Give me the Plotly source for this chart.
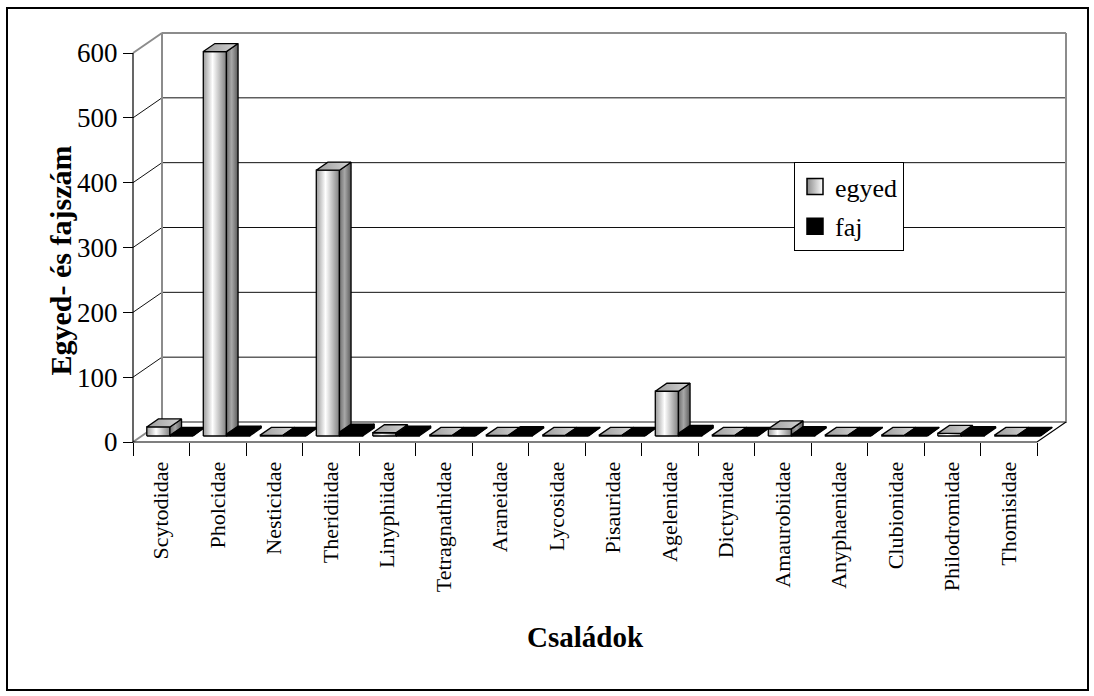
import plotly.graph_objects as go

# Spider families (Családok) with individual (egyed) and species (faj) counts
families = ["Scytodidae", "Pholcidae", "Nesticidae", "Theridiidae", "Linyphiidae",
            "Tetragnathidae", "Araneidae", "Lycosidae", "Pisauridae", "Agelenidae",
            "Dictynidae", "Amaurobiidae", "Anyphaenidae", "Clubionidae",
            "Philodromidae", "Thomisidae"]
egyed = [14, 593, 1, 410, 5, 1, 1, 1, 1, 69, 1, 11, 1, 1, 4, 1]
faj = [1, 3, 1, 6, 3, 1, 2, 1, 1, 4, 1, 2, 1, 1, 2, 1]
y_ticks = [0, 100, 200, 300, 400, 500, 600]

# ---- page geometry (pixels) ----
W, H = 1094, 696
X0_PX, Y0_PX = 133, 442          # front-left corner of the floor
CAT_PX = 56.5                    # width of one category
VAL_PX = 389 / 600               # pixels per unit on the value axis
DEPTH_DX_PX, DEPTH_DY_PX = 29, 20  # oblique depth of the floor

FONT = "Liberation Serif"

x_range = [-X0_PX / CAT_PX, (W - X0_PX) / CAT_PX]
y_range = [-(H - Y0_PX) / VAL_PX, Y0_PX / VAL_PX]
dX = DEPTH_DX_PX / CAT_PX
dY = DEPTH_DY_PX / VAL_PX
n = len(families)
vmax = y_ticks[-1]

fig = go.Figure()


def poly(xs, ys, color="black", gradient=None, lw=1.3, lc="black"):
    kw = dict(fillcolor=color)
    if gradient is not None:
        kw = dict(fillgradient=dict(type="horizontal", colorscale=gradient))
    fig.add_trace(go.Scatter(
        x=list(xs) + [xs[0]], y=list(ys) + [ys[0]], mode="lines", fill="toself",
        line=dict(color=lc, width=lw), hoverinfo="skip", showlegend=False, **kw))


def line(xs, ys, color="black", width=1):
    fig.add_trace(go.Scatter(x=xs, y=ys, mode="lines", line=dict(color=color, width=width),
                             hoverinfo="skip", showlegend=False))


GREY = "#8c8c8c"
# back wall gridlines and the diagonals on the side wall
for v in y_ticks[1:-1]:
    line([0, dX, n + dX], [v, v + dY, v + dY], "#101010", 1)
# wall and floor borders
line([0, dX, dX, n + dX, n + dX], [vmax, vmax + dY, dY, dY, vmax + dY], GREY, 2)
line([dX, n + dX], [vmax + dY, vmax + dY], GREY, 2)
line([0, dX], [0, dY], GREY, 2)
line([0, n, n + dX], [0, 0, dY], "black", 1.2)
line([0, 0], [0, vmax], "black", 1.2)

# ---- 3D columns ----
FRONT_GRAD = [[0, "#9a9a9a"], [0.4, "#ffffff"], [1, "#808080"]]
SIDE_GRAD = [[0, "#6e6e6e"], [0.45, "#a8a8a8"], [1, "#5a5a5a"]]
TOP_GRAD = [[0, "#9c9c9c"], [1, "#d4d4d4"]]

d_front, d_back = 0.3, 0.7
sx, sy = d_front * dX, d_front * dY
tdx, tdy = (d_back - d_front) * dX, (d_back - d_front) * dY
slots = [(0.09, 0.50), (0.50, 0.91)]

for i in range(n):
    for s, (vals, dark) in enumerate([(egyed, False), (faj, True)]):
        v = vals[i]
        xl = i + slots[s][0] + sx
        xr = i + slots[s][1] + sx
        b = sy
        t = sy + v
        if dark:
            poly([xl, xr, xr, xl], [b, b, t, t], "black")
            poly([xr, xr + tdx, xr + tdx, xr], [b, b + tdy, t + tdy, t], "black")
            poly([xl, xr, xr + tdx, xl + tdx], [t, t, t + tdy, t + tdy], "black")
        else:
            poly([xl, xr, xr, xl], [b, b, t, t], gradient=FRONT_GRAD)
            poly([xr, xr + tdx, xr + tdx, xr], [b, b + tdy, t + tdy, t], gradient=SIDE_GRAD)
            poly([xl, xr, xr + tdx, xl + tdx], [t, t, t + tdy, t + tdy], gradient=TOP_GRAD)

# legend entries
fig.add_trace(go.Scatter(x=[None], y=[None], mode="markers", name="egyed", legendgroup="a",
                         marker=dict(symbol="square", size=17, color="#8a8a8a",
                                     gradient=dict(type="horizontal", color="#ffffff"),
                                     line=dict(color="black", width=1.5))))
fig.add_trace(go.Scatter(x=[None], y=[None], mode="markers", name="faj", legendgroup="b",
                         marker=dict(symbol="square", size=17, color="black",
                                     line=dict(color="black", width=1.5))))

fig.update_layout(
    width=W, height=H,
    margin=dict(l=0, r=0, t=0, b=0),
    paper_bgcolor="white", plot_bgcolor="white",
    font=dict(family=FONT, color="black"),
    showlegend=True,
    legend=dict(x=794 / W, y=1 - 162 / H, xanchor="left", yanchor="top",
                bordercolor="black", borderwidth=1, bgcolor="white",
                font=dict(size=26, family=FONT), tracegroupgap=3,
                itemwidth=30),
    xaxis=dict(range=x_range, showgrid=False, zeroline=False, showline=False,
               anchor="free", position=(H - Y0_PX) / H,
               tickmode="array", tickvals=[i + 0.5 for i in range(n)], ticktext=families,
               tickangle=-90, ticks="outside", ticklen=10, tickcolor="rgba(0,0,0,0)",
               tickfont=dict(size=22, family=FONT),
               minor=dict(tickmode="array", tickvals=list(range(n + 1)), ticks="outside",
                          ticklen=13, tickcolor="black", tickwidth=1, showgrid=False)),
    yaxis=dict(range=y_range, showgrid=False, zeroline=False, showline=False,
               anchor="free", position=X0_PX / W,
               tickmode="array", tickvals=y_ticks, ticks="outside", ticklen=10,
               tickcolor="black", tickwidth=1, tickfont=dict(size=27, family=FONT)),
    annotations=[
        dict(text="<b>Egyed- és fajszám</b>", x=41 / W, y=1 - 261 / H, xref="paper", yref="paper",
             textangle=-90, showarrow=False, font=dict(size=30, family=FONT)),
        dict(text="<b>Családok</b>", x=585 / W, y=1 - 655 / H, xref="paper", yref="paper",
             showarrow=False, font=dict(size=29, family=FONT)),
    ],
    shapes=[dict(type="rect", xref="paper", yref="paper", x0=7 / W, x1=1088 / W,
                 y0=1 - 690 / H, y1=1 - 8 / H, line=dict(color="black", width=2))],
)

fig.write_html("out.html")
